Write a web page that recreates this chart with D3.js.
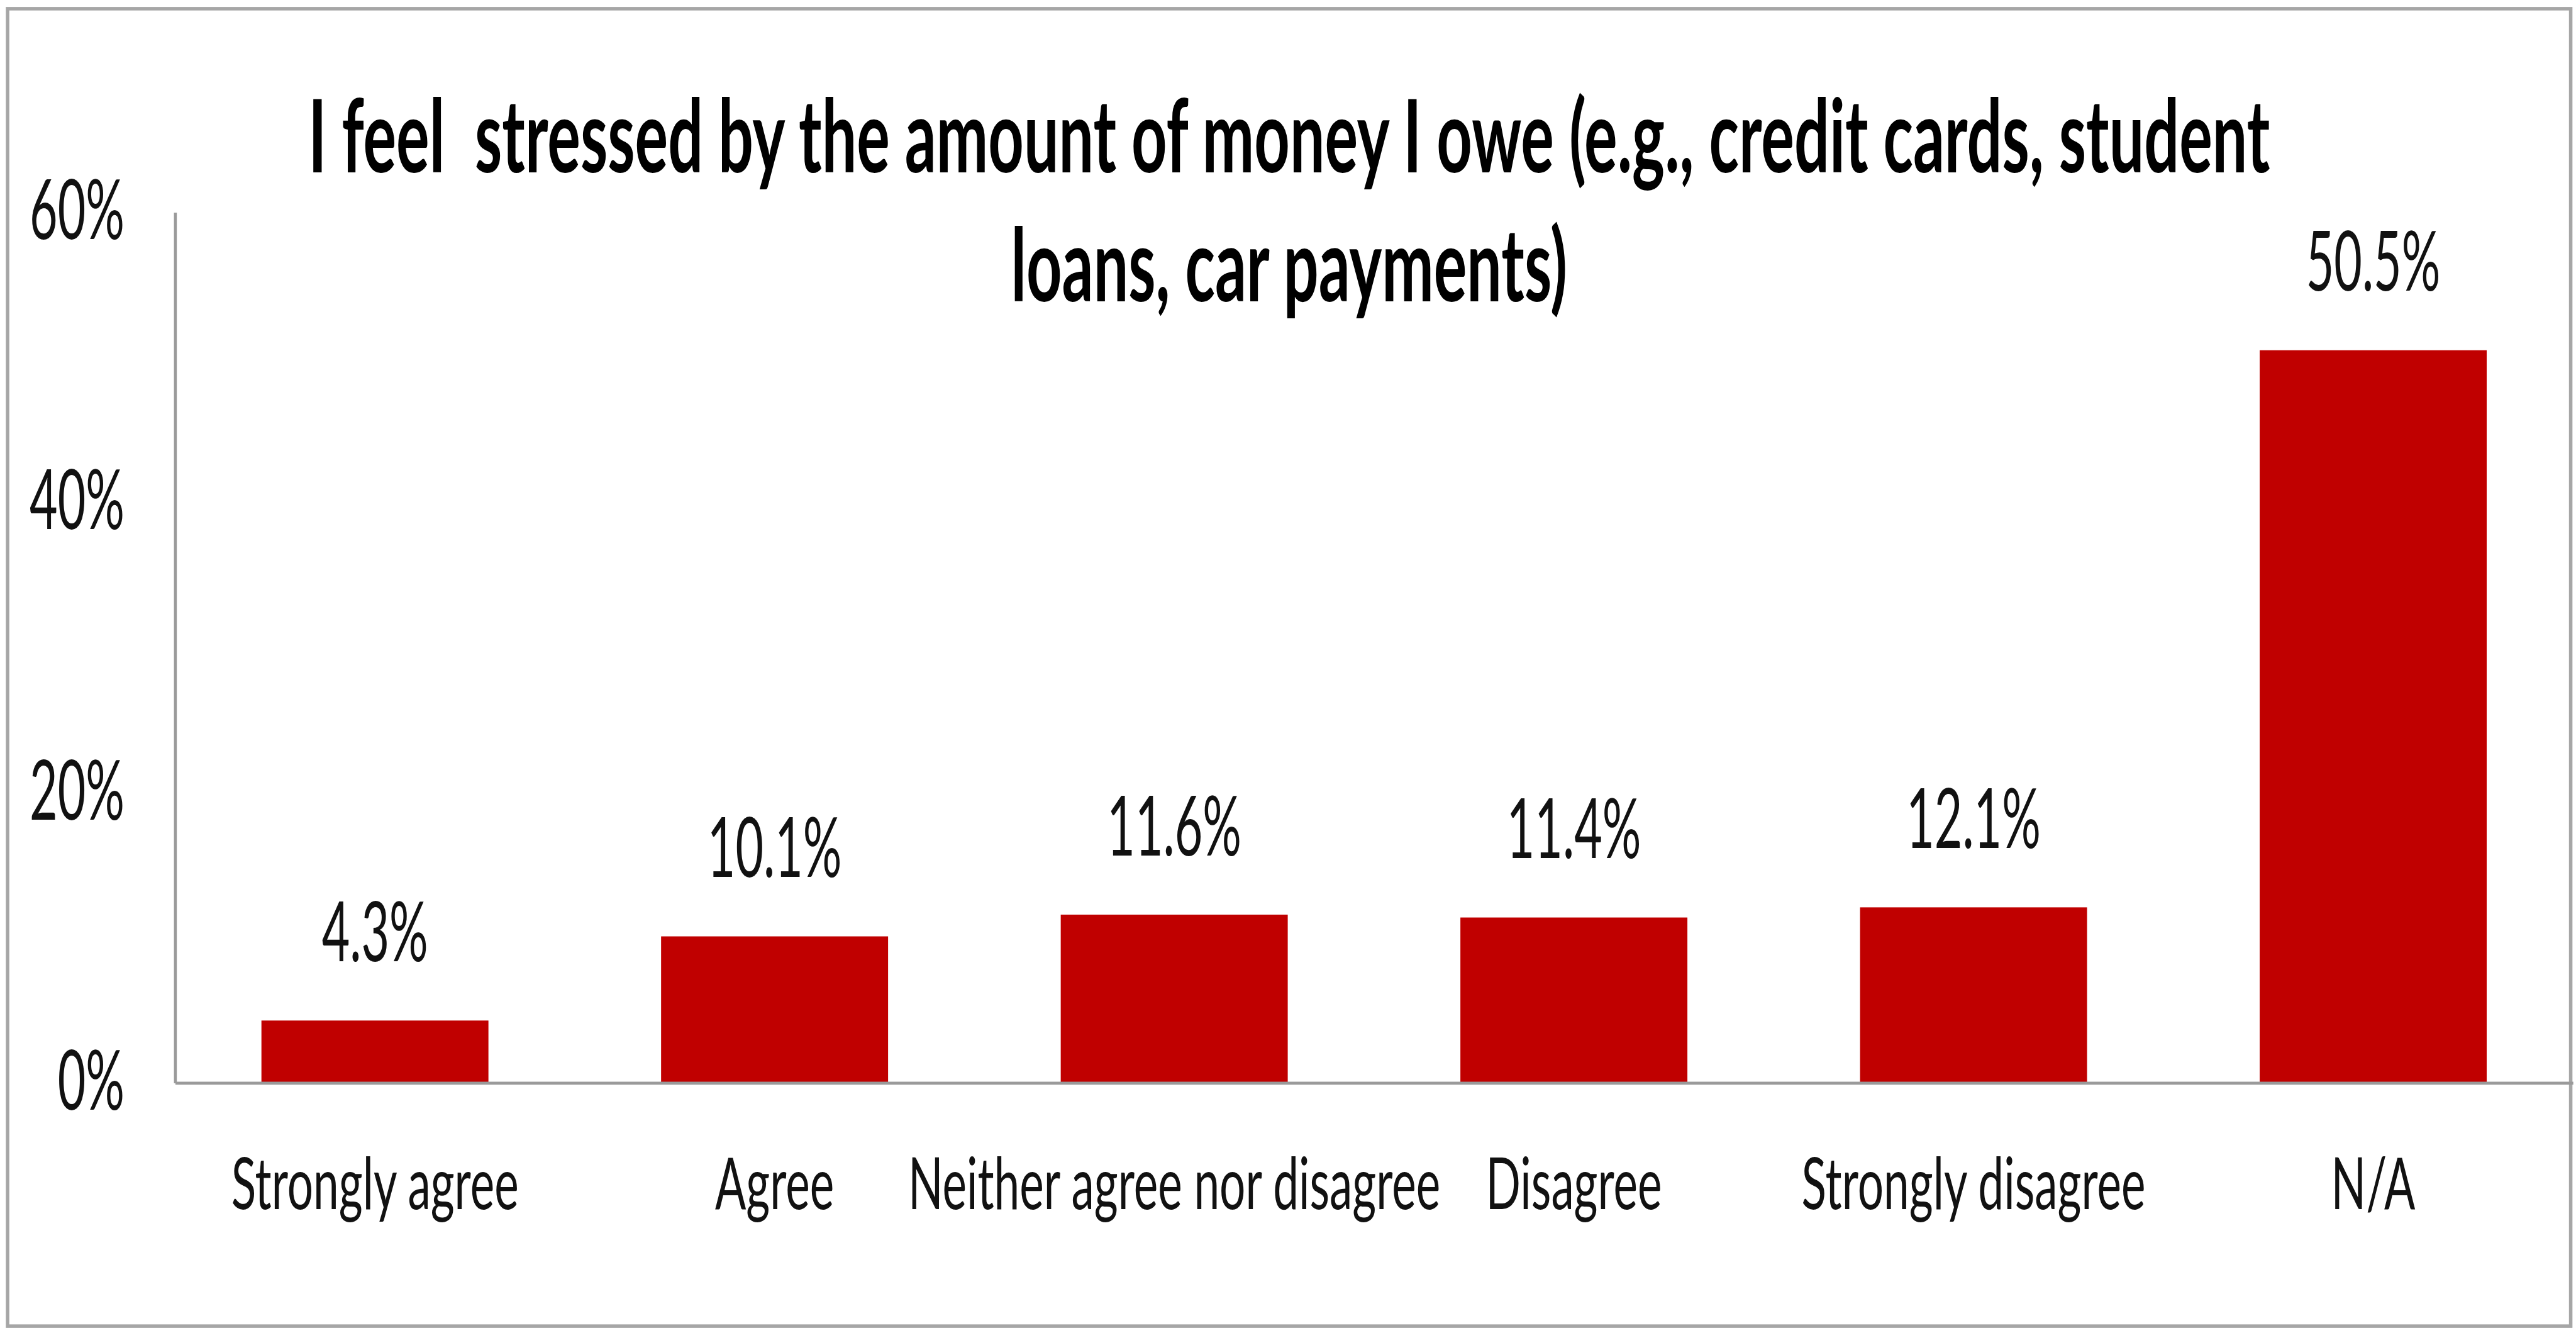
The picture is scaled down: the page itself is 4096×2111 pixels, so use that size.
<!DOCTYPE html>
<html>
<head>
<meta charset="utf-8">
<script src="https://cdn.jsdelivr.net/npm/d3@7"></script>
<style>
  html, body { margin: 0; padding: 0; background: #fff; overflow: hidden; }
  text { white-space: pre; }
</style>
</head>
<body>
<svg id="chart" width="4096" height="2111"></svg>
<script>
// Survey responses: share of respondents per answer (percent)
const categories = ["Strongly agree", "Agree", "Neither agree nor disagree", "Disagree", "Strongly disagree", "N/A"];
const values = [4.3, 10.1, 11.6, 11.4, 12.1, 50.5];
const valueLabels = ["4.3%", "10.1%", "11.6%", "11.4%", "12.1%", "50.5%"];
const yTicks = [0, 20, 40, 60];
const yTickLabels = ["0%", "20%", "40%", "60%"];
const titleLines = [
  "I feel  stressed by the amount of money I owe (e.g., credit cards, student",
  "loans, car payments)"
];

// Layout is expressed in a 4425 x 2281 design space and scaled to the page.
const SCALE = 0.925;
const FONT = "Lato, 'Liberation Sans', Arial, sans-serif";
const TEXT_COLOR = "#111";
const BAR_COLOR = "#C00000";

const svg = d3.select("#chart");
const root = svg.append("g").attr("transform", `scale(${SCALE})`);

// Outer chart-area frame
root.append("rect")
  .attr("x", 13).attr("y", 15)
  .attr("width", 4406).attr("height", 2264)
  .attr("fill", "#fff")
  .attr("stroke", "#a6a6a6")
  .attr("stroke-width", 6);

// The typeface is narrow; derive horizontal compression from reference line widths.
function naturalWidth(str, size, weight) {
  const t = root.append("text")
    .attr("font-family", FONT).attr("font-size", size).attr("font-weight", weight)
    .text(str);
  const w = t.node().getComputedTextLength();
  t.remove();
  return w;
}
const TITLE_SIZE = 174, NUM_SIZE = 142, CAT_SIZE = 124;
const sxTitle = 3372 / naturalWidth(titleLines[0], TITLE_SIZE, "bold");
const sxText = 915 / naturalWidth(categories[2], CAT_SIZE, "normal");
const sxNum = 231 / naturalWidth(valueLabels[5], NUM_SIZE, "normal");

// Scales
const x = d3.scaleBand()
  .domain(categories)
  .range([301, 4423])
  .paddingInner(0.432)
  .paddingOuter(0.216);

const y = d3.scaleLinear()
  .domain([0, 60])
  .range([1861, 365]);

// Title
const titleG = root.append("g");
titleLines.forEach((line, i) => {
  titleG.append("text")
    .attr("transform", `translate(2216,${296 + i * 222}) scale(${sxTitle},1)`)
    .attr("text-anchor", "middle")
    .attr("font-family", FONT)
    .attr("font-size", TITLE_SIZE)
    .attr("font-weight", "bold")
    .attr("fill", "#000")
    .text(line);
});

// Bars
root.append("g").selectAll("rect")
  .data(values)
  .join("rect")
  .attr("x", (d, i) => x(categories[i]))
  .attr("y", d => y(d))
  .attr("width", x.bandwidth())
  .attr("height", d => y(0) - y(d))
  .attr("fill", BAR_COLOR);

// Value labels above bars
root.append("g").selectAll("text")
  .data(values)
  .join("text")
  .attr("transform", (d, i) =>
    `translate(${x(categories[i]) + x.bandwidth() / 2},${y(d) - 102}) scale(${sxNum},1)`)
  .attr("text-anchor", "middle")
  .attr("font-family", FONT)
  .attr("font-size", NUM_SIZE)
  .attr("fill", TEXT_COLOR)
  .text((d, i) => valueLabels[i]);

// Y axis
const yAxis = root.append("g")
  .attr("transform", `translate(${x.range()[0]},0)`)
  .call(d3.axisLeft(y)
    .tickValues(yTicks)
    .tickSize(0)
    .tickFormat((d, i) => yTickLabels[i]));
yAxis.select(".domain").attr("stroke", "#9a9a9a").attr("stroke-width", 5);
yAxis.selectAll(".tick text")
  .attr("x", 0)
  .attr("dy", "0.32em")
  .attr("transform", `translate(-87,0) scale(${sxNum},1)`)
  .attr("font-family", FONT)
  .attr("font-size", NUM_SIZE)
  .attr("fill", TEXT_COLOR);

// X axis
const xAxis = root.append("g")
  .attr("transform", `translate(0,${y(0)})`)
  .call(d3.axisBottom(x).tickSize(0).tickSizeOuter(0));
xAxis.select(".domain").attr("stroke", "#9a9a9a").attr("stroke-width", 5);
xAxis.selectAll(".tick text")
  .attr("y", 0)
  .attr("dy", 0)
  .attr("transform", `translate(0,217) scale(${sxText},1)`)
  .attr("font-family", FONT)
  .attr("font-size", CAT_SIZE)
  .attr("fill", TEXT_COLOR);
</script>
</body>
</html>
